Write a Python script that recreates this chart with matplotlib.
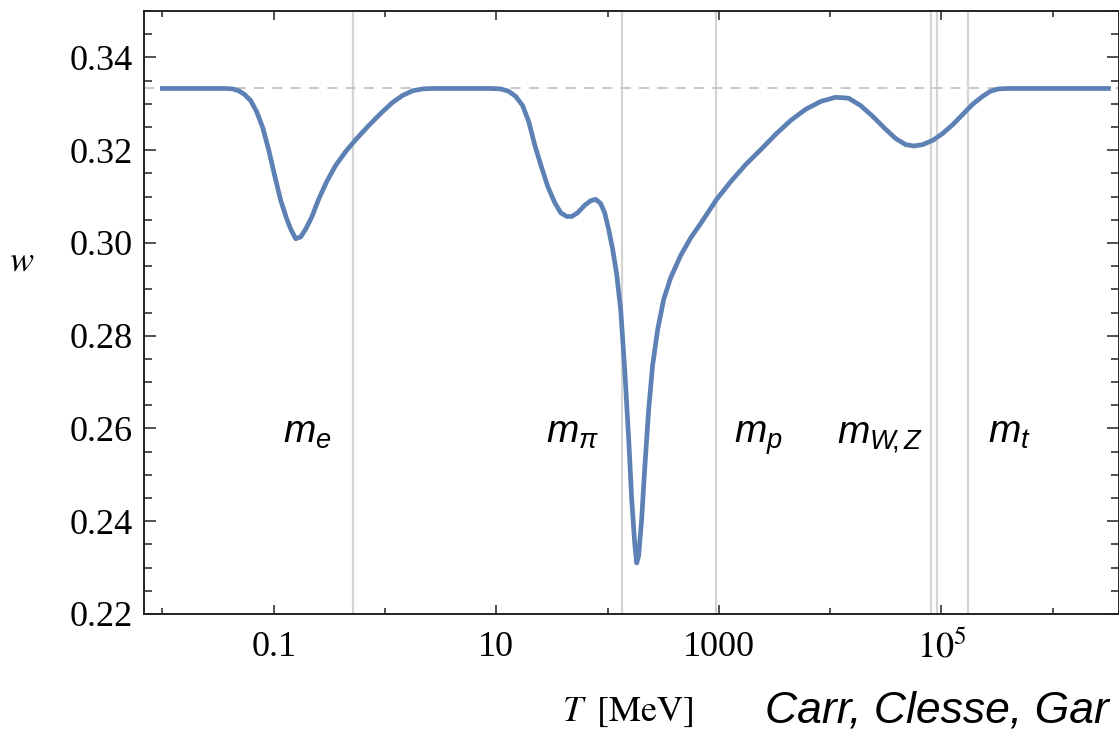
import matplotlib
matplotlib.use("Agg")
import matplotlib.pyplot as plt
from matplotlib.ticker import FixedLocator, NullFormatter, FixedFormatter
import numpy as np

# equation of state w(T) (log10 of T in MeV)
logT = [-2.0, -1.431, -1.368, -1.314, -1.261, -1.207, -1.153, -1.099, -1.045, -0.991,
        -0.937, -0.883, -0.847, -0.802, -0.757, -0.712, -0.659, -0.596, -0.524, -0.443,
        -0.353, -0.254, -0.146, -0.039, 0.069, 0.159, 0.249, 0.339, 0.429,
        0.950, 1.040, 1.111, 1.174, 1.237, 1.291, 1.345, 1.399, 1.462, 1.525,
        1.579, 1.633, 1.678, 1.731, 1.794, 1.848, 1.893, 1.938, 1.974, 2.010,
        2.046, 2.082, 2.118, 2.154, 2.190, 2.217, 2.244, 2.262, 2.279, 2.306,
        2.333, 2.369, 2.405, 2.450, 2.504, 2.567, 2.657, 2.747, 2.837, 2.980,
        3.106, 3.241, 3.376, 3.510, 3.645, 3.779, 3.915, 4.049, 4.166, 4.274,
        4.382, 4.490, 4.589, 4.678, 4.750, 4.831, 4.921, 5.011, 5.101, 5.191,
        5.280, 5.370, 5.440, 5.512, 5.601, 6.5]
w = [0.3333, 0.3333, 0.3332, 0.3328, 0.3320, 0.3307, 0.3283, 0.3249, 0.3201, 0.3145,
     0.3092, 0.3052, 0.3030, 0.3009, 0.3013, 0.3030, 0.3055, 0.3094, 0.3132, 0.3167,
     0.3197, 0.3225, 0.3253, 0.3279, 0.3303, 0.3318, 0.3328, 0.3332, 0.3333,
     0.3333, 0.3332, 0.3327, 0.3316, 0.3296, 0.3262, 0.3212, 0.3169, 0.3122, 0.3087,
     0.3065, 0.3057, 0.3057, 0.3065, 0.3081, 0.3091, 0.3094, 0.3085, 0.3065, 0.3029,
     0.2986, 0.2932, 0.2856, 0.2727, 0.2576, 0.2446, 0.2352, 0.2310, 0.2325, 0.2403,
     0.2511, 0.2640, 0.2737, 0.2813, 0.2878, 0.2925, 0.2973, 0.3011, 0.3042, 0.3094,
     0.3132, 0.3169, 0.3201, 0.3234, 0.3264, 0.3288, 0.3305, 0.3314, 0.3312, 0.3296,
     0.3273, 0.3247, 0.3225, 0.3212, 0.3209, 0.3212, 0.3221, 0.3236, 0.3255, 0.3277,
     0.3299, 0.3316, 0.3327, 0.3332, 0.3333, 0.3333]
T = 10.0 ** np.array(logT)

# particle masses in MeV
masses = [0.511, 135.0, 938.3, 80379.0, 91188.0, 172760.0]
mass_labels = [r"$m_e$", r"$m_\pi$", r"$m_p$", r"$m_{W\!,Z}$", r"$m_t$"]
label_T = [0.2, 48.6, 2240.0, 27700.0, 4.1e5]

major_T = [0.1, 10, 1000, 1e5]
major_lbl = ["0.1", "10", "1000", r"$10^5$"]
minor_T = [0.01, 1, 100, 1e4, 1e6]

plt.rcParams['font.family'] = ['Liberation Serif', 'DejaVu Serif']
plt.rcParams['mathtext.fontset'] = 'stix'
# sans italic set used only for the mass labels
plt.rcParams['mathtext.rm'] = 'Liberation Sans'
plt.rcParams['mathtext.it'] = 'Liberation Sans:italic'
plt.rcParams['mathtext.bf'] = 'Liberation Sans:bold'

fig = plt.figure(figsize=(11.19, 7.37), dpi=100)
ax = fig.add_axes([144/1119, 1 - 614/737, 1 - 144/1119, (614 - 11)/737])

for m in masses:
    ax.axvline(m, color='#d4d4d4', lw=1.6, zorder=1)
ax.axhline(1/3, color='#bdbdbd', lw=1.2, ls=(0, (6, 5)), zorder=1)
ax.plot(T, w, color='#5e81b5', lw=3.4, solid_joinstyle='round', zorder=3)

for lbl, xt in zip(mass_labels, label_T):
    ax.text(xt, 0.2569, lbl, ha='center', va='baseline', fontsize=28,
            math_fontfamily='custom')

ax.set_xscale('log')
ax.set_xlim(10**-2.165, 10**6.595)
ax.set_ylim(0.22, 0.35)
ax.xaxis.set_major_locator(FixedLocator(major_T))
ax.xaxis.set_major_formatter(FixedFormatter(major_lbl))
ax.xaxis.set_minor_locator(FixedLocator(minor_T))
ax.xaxis.set_minor_formatter(NullFormatter())
yt = np.arange(0.22, 0.341, 0.02)
ax.set_yticks(yt)
ax.set_yticklabels(["%.2f" % v for v in yt])
ax.set_yticks(np.arange(0.22, 0.3501, 0.005), minor=True)

ax.tick_params(axis='both', which='both', direction='in', top=True, right=True,
               width=1.2, color='#333333', labelsize=26)
ax.tick_params(axis='y', which='major', length=8.5, pad=8)
ax.tick_params(axis='y', which='minor', length=5.5)
ax.tick_params(axis='x', which='major', length=6.5, pad=12)
ax.tick_params(axis='x', which='minor', length=4.3)
for s in ax.spines.values():
    s.set_linewidth(1.4)
    s.set_color('#222222')

fig.text(22/1119, 1 - 262/737, r"$w$", fontsize=26, ha='center', va='center')
fig.text(628/1119, 1 - 712/737, r"$T\;\;[\mathrm{MeV}]$", fontsize=26,
         ha='center', va='center', math_fontfamily='stix')
fig.text(765/1119, 1 - 723/737, "Carr, Clesse, Gar", fontsize=32,
         family='Liberation Sans', style='italic', ha='left', va='baseline')

fig.savefig("out.png", dpi=100)
